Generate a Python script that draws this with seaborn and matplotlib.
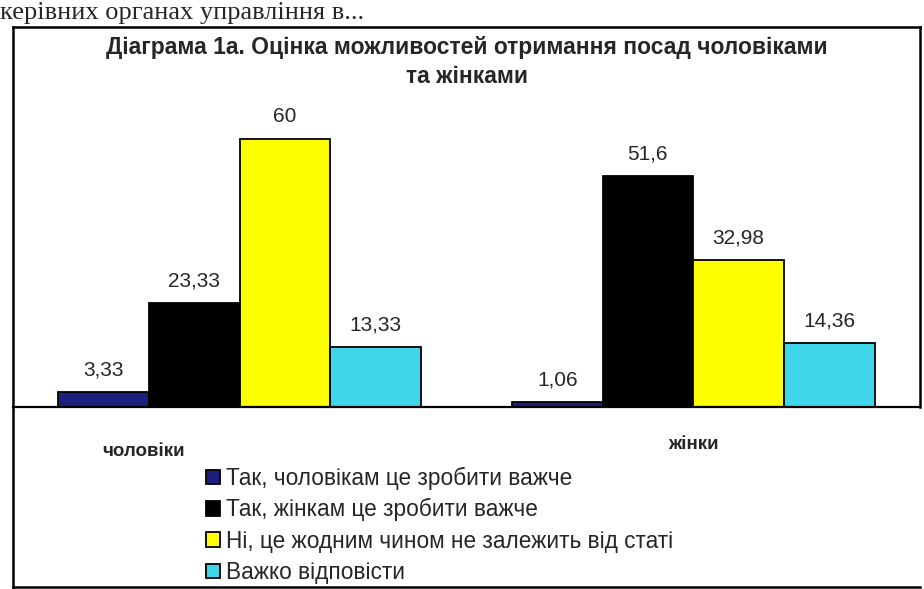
import matplotlib
matplotlib.use("Agg")
import matplotlib.pyplot as plt
from matplotlib.lines import Line2D
from matplotlib.transforms import ScaledTranslation
import pandas as pd
import seaborn as sns

# --- data -------------------------------------------------------------
groups = ["чоловіки", "жінки"]
answers = [
    "Так, чоловікам це зробити важче",
    "Так, жінкам це зробити важче",
    "Ні, це жодним чином не залежить від статі",
    "Важко відповісти",
]
men_values = [3.33, 23.33, 60, 13.33]
women_values = [1.06, 51.6, 32.98, 14.36]
answer_colors = ["#1c1f7c", "#000000", "#ffff00", "#3fd6ec"]

title_text = "Діаграма 1а. Оцінка можливостей отримання посад чоловіками\nта жінками"
page_text = "керівних органах управління в..."

df = pd.DataFrame({
    "група": [g for g in groups for _ in answers],
    "відповідь": answers * len(groups),
    "значення": men_values + women_values,
})

# --- figure -----------------------------------------------------------
sns.set_theme(style="white")
plt.rcParams["font.family"] = ["Liberation Sans", "DejaVu Sans"]

W, H = 924, 589
fig = plt.figure(figsize=(W / 100, H / 100), dpi=100)
fig.patch.set_facecolor("white")


def px(x, y):
    """pixel position (from top-left) -> figure fraction"""
    return x / W, 1 - y / H


ax_left, ax_right, ax_base, ax_top = 13, 920, 407, 94
ax = fig.add_axes([ax_left / W, (H - ax_base) / H,
                   (ax_right - ax_left) / W, (ax_base - ax_top) / H])

sns.barplot(data=df, x="група", y="значення", hue="відповідь",
            hue_order=answers, order=groups, palette=answer_colors,
            saturation=1, edgecolor="black", linewidth=1.3, width=0.8, ax=ax)

ax.set_xlim(-0.5, 1.5)
ax.set_ylim(0, 70)
ax.set_xlabel("")
ax.set_ylabel("")
ax.set_yticks([])
for side in ["top", "left", "right"]:
    ax.spines[side].set_visible(False)
ax.spines["bottom"].set_linewidth(1.6)
ax.spines["bottom"].set_color("black")

# category labels and the separator tick between groups
ax.set_xticks(range(len(groups)))
ax.set_xticklabels(groups, fontsize=13.5, fontweight="bold")
ax.tick_params(axis="x", which="major", length=0, pad=24)
ax.set_xticks([0.5], minor=True)
ax.tick_params(axis="x", which="minor", length=9, width=1.3,
               direction="inout", color="black")
offsets = [(-96, -3), (0, 4)]
for lbl, (dx, dy) in zip(ax.get_xticklabels(), offsets):
    lbl.set_transform(lbl.get_transform() + ScaledTranslation(dx / 100, dy / 100, fig.dpi_scale_trans))

# value labels above every bar
for cont, ans in zip(ax.containers, answers):
    vals = [v for v in df.loc[df["відповідь"] == ans, "значення"]]
    ax.bar_label(cont, labels=[f"{v:g}".replace(".", ",") for v in vals],
                 padding=9, fontsize=15)

# legend below the axis
handles, labels = ax.get_legend_handles_labels()
if ax.get_legend() is not None:
    ax.get_legend().remove()
fig.legend(handles, labels, loc="upper left",
           bbox_to_anchor=px(206, 467), bbox_transform=fig.transFigure,
           frameon=False, fontsize=16.3, handlelength=0.6, handleheight=0.6,
           handletextpad=0.3, labelspacing=0.36, borderpad=0, borderaxespad=0)

# title
fig.text(*px(467, 62), title_text, ha="center", va="center",
         fontsize=16.5, fontweight="bold", linespacing=1.3)

# outer chart frame
frame_lw = 1.8
for (x0, y0), (x1, y1) in [((13, 27), (920, 27)),
                           ((13, 27), (13, 589)),
                           ((920, 27), (920, ax_base)),
                           ((13, 587), (920, 587))]:
    fig.add_artist(Line2D([x0 / W, x1 / W], [1 - y0 / H, 1 - y1 / H],
                          transform=fig.transFigure, color="black",
                          linewidth=frame_lw, solid_capstyle="projecting"))

# page text running above the chart
fig.text(*px(0, 19), page_text, ha="left", va="baseline",
         fontsize=19, family=["Liberation Serif", "DejaVu Serif"])

fig.savefig("out.png", dpi=100, facecolor="white")
